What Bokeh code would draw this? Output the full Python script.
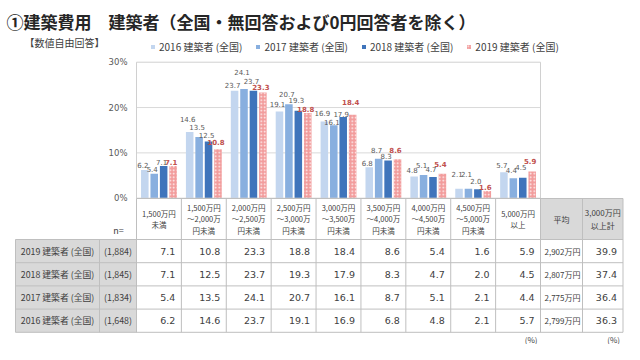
from bokeh.plotting import figure
from bokeh.models import Range1d, Legend, LegendItem
from bokeh.core.properties import value
from bokeh.embed import file_html
from bokeh.resources import INLINE

# ---------------- data ----------------
title_text = "①建築費用　建築者（全国・無回答および0円回答者を除く）"
subtitle_text = "【数値自由回答】"

categories = [
    "1,500万円\n未満",
    "1,500万円\n～2,000万\n円未満",
    "2,000万円\n～2,500万\n円未満",
    "2,500万円\n～3,000万\n円未満",
    "3,000万円\n～3,500万\n円未満",
    "3,500万円\n～4,000万\n円未満",
    "4,000万円\n～4,500万\n円未満",
    "4,500万円\n～5,000万\n円未満",
    "5,000万円\n以上",
]
series_names = ["2016 建築者 (全国)", "2017 建築者 (全国)", "2018 建築者 (全国)", "2019 建築者 (全国)"]
v2016 = [6.2, 14.6, 23.7, 19.1, 16.9, 6.8, 4.8, 2.1, 5.7]
v2017 = [5.4, 13.5, 24.1, 20.7, 16.1, 8.7, 5.1, 2.1, 4.4]
v2018 = [7.1, 12.5, 23.7, 19.3, 17.9, 8.3, 4.7, 2.0, 4.5]
v2019 = [7.1, 10.8, 23.3, 18.8, 18.4, 8.6, 5.4, 1.6, 5.9]

y_ticks = [0, 10, 20, 30]
y_tick_labels = ["0%", "10%", "20%", "30%"]

# table (rows from top: 2019 .. 2016)
row_labels = ["2019 建築者 (全国)", "2018 建築者 (全国)", "2017 建築者 (全国)", "2016 建築者 (全国)"]
n_labels = ["(1,884)", "(1,845)", "(1,834)", "(1,648)"]
avg_labels = ["2,902万円", "2,807万円", "2,775万円", "2,799万円"]
over3000 = [39.9, 37.4, 36.4, 36.3]
extra_headers = ["平均", "3,000万円\n以上計"]
unit_note = "(%)"

# ---------------- layout (pixel positions -> data units) ----------------
W_PX = 404 / 9.0
Y0_PX = 197.7
PX_PER = 136 / 30.0


def ux(px):
    return (px - 136) / W_PX - 0.5


def uy(py):
    return (Y0_PX - py) / PX_PER


# manual label lifts (px above bar top), as in the original chart
label_lift = [
    [5.3, 13, 5.5, 8, 8.5, 4.6, 6.6, 15, 6.9],
    [5, 10, 17, 10.6, 3.5, 9, 10.3, 15, 7.8],
    [4.5, 7, 10, 11, 3.5, 5, 7.4, 8.6, 11.3],
    [4.5, 7, 6, 4, 13, 9.7, 9.9, 3.7, 10],
]

JP = value("Noto Sans CJK JP")
NUM = value("DejaVu Sans")
TXT = "#404040"
LINE = "#bfbfbf"
GRAY = "#d9d9d9"

p = figure(width=624, height=344,
           x_range=Range1d(ux(0), ux(624)), y_range=Range1d(uy(344), uy(0)),
           output_backend="svg", toolbar_location=None,
           x_axis_type=None, y_axis_type=None, min_border=0)
p.outline_line_color = None
p.background_fill_color = "white"
p.border_fill_color = "white"

ncat = len(categories)
ex_edges = [ncat - 0.5, ux(582), ux(622.5)]
ex_centers = [(ex_edges[i] + ex_edges[i + 1]) / 2 for i in range(len(extra_headers))]
nrows = len(row_labels)
HDR_TOP, HDR_BOT = 198.0, 239.0
ROW_H = 23.2
row_tops = [HDR_BOT + ROW_H * i for i in range(nrows + 1)]

# table backgrounds
p.quad(left=[ux(15)], right=[-0.5], top=[uy(HDR_BOT)], bottom=[uy(row_tops[-1])],
       fill_color=GRAY, line_color=None)
p.quad(left=[ex_edges[0]], right=[ex_edges[-1]], top=[uy(HDR_TOP)], bottom=[uy(HDR_BOT)],
       fill_color=GRAY, line_color=None)

# grid lines
grid_y = y_ticks[1:-1]
p.segment(x0=[-0.5] * len(grid_y), x1=[ncat - 0.5] * len(grid_y), y0=grid_y, y1=grid_y,
          line_color="#d9d9d9", line_width=1)

# bars
values = [v2016, v2017, v2018, v2019]
colors = ["#c3d6ef", "#88afdf", "#3f74bb", "#f29c9c"]
offsets = [-0.315, -0.105, 0.105, 0.315]
bw = 0.168
renderers = []
for k, vals in enumerate(values):
    xs = [i + offsets[k] for i in range(ncat)]
    kw = {}
    if k == 3:
        kw = dict(hatch_pattern="dot", hatch_color="white", hatch_scale=3.5, hatch_weight=1.0, hatch_alpha=0.9)
    r = p.vbar(x=xs, top=vals, bottom=0, width=bw, fill_color=colors[k], line_color=None, **kw)
    renderers.append(r)

# chart box
p.quad(left=[-0.5], right=[ncat - 0.5], bottom=[y_ticks[0]], top=[y_ticks[-1]],
       fill_color=None, line_color="#d0d0d0", line_width=1)

# bar value labels
for k, vals in enumerate(values):
    xs = [i + offsets[k] for i in range(ncat)]
    last = (k == 3)
    p.text(x=xs, y=vals, text=[f"{v:.1f}" for v in vals], text_align="center", text_baseline="middle",
           x_offset=-2, y_offset=[-l for l in label_lift[k]], text_font=NUM, text_font_size="7px",
           text_font_style="bold" if last else "normal",
           text_color="#c0504d" if last else "#595959")

# y tick labels
p.text(x=[ux(127)] * len(y_ticks), y=y_ticks, text=y_tick_labels, text_align="right",
       text_baseline="middle", text_font=NUM, text_font_size="8.5px", text_color="#595959")

# table lines
hy = [HDR_TOP] + row_tops
hx0 = [-0.5] + [ux(15)] * len(row_tops)
p.segment(x0=hx0, x1=[ex_edges[-1]] * len(hy), y0=[uy(v) for v in hy], y1=[uy(v) for v in hy],
          line_color=LINE, line_width=1)
vx = [i - 0.5 for i in range(ncat)] + ex_edges
p.segment(x0=vx, x1=vx, y0=[uy(HDR_TOP)] * len(vx), y1=[uy(row_tops[-1])] * len(vx),
          line_color=LINE, line_width=1)
lx = [ux(15), ux(99)]
p.segment(x0=lx, x1=lx, y0=[uy(HDR_BOT)] * 2, y1=[uy(row_tops[-1])] * 2,
          line_color=LINE, line_width=1)

# header texts
hdr_y = uy((HDR_TOP + HDR_BOT) / 2)
p.text(x=list(range(ncat)), y=[hdr_y] * ncat, text=categories, text_align="center",
       text_baseline="middle", text_font=JP, text_font_size="7.5px", text_color=TXT,
       text_line_height=1.08)
p.text(x=ex_centers, y=[hdr_y] * 2, text=extra_headers, text_align="center",
       text_baseline="middle", text_font=JP, text_font_size="8px", text_color=TXT,
       text_line_height=1.1)
p.text(x=[ux(118)], y=[uy(230)], text=["n="], text_align="center", text_baseline="middle",
       text_font=JP, text_font_size="9px", text_color=TXT)

# row texts
row_series = [v2019, v2018, v2017, v2016]
row_cy = [uy(row_tops[i] + ROW_H / 2) for i in range(nrows)]
p.text(x=[ux(57)] * nrows, y=row_cy, text=row_labels, text_align="center", text_baseline="middle",
       text_font=JP, text_font_size="8.8px", text_color=TXT)
p.text(x=[ux(117.5)] * nrows, y=row_cy, text=n_labels, text_align="center", text_baseline="middle",
       text_font=JP, text_font_size="8.8px", text_color=TXT)
cx, cy, ct = [], [], []
for r, vals in enumerate(row_series):
    for c, v in enumerate(vals):
        cx.append(c + 0.5)
        cy.append(row_cy[r])
        ct.append(f"{v:.1f}")
    cx.append(ex_edges[2])
    cy.append(row_cy[r])
    ct.append(f"{over3000[r]:.1f}")
p.text(x=cx, y=cy, text=ct, text_align="right", text_baseline="middle", x_offset=-6,
       text_font=NUM, text_font_size="9.5px", text_color=TXT)
p.text(x=[ex_edges[1]] * nrows, y=row_cy, text=avg_labels, text_align="right", text_baseline="middle",
       x_offset=-2, text_font=JP, text_font_size="8px", text_color=TXT)
p.text(x=[ex_edges[0], ex_edges[2]], y=[uy(row_tops[-1] + 2)] * 2, text=[unit_note, unit_note],
       text_align="right", text_baseline="top", x_offset=-3, text_font=JP, text_font_size="8px",
       text_color=TXT)

# title & subtitle
p.text(x=[ux(6)], y=[uy(20.5)], text=[title_text], text_align="left", text_baseline="middle",
       text_font=JP, text_font_size="17px", text_font_style="bold", text_color="#262626")
p.text(x=[ux(24)], y=[uy(42)], text=[subtitle_text], text_align="left", text_baseline="middle",
       text_font=JP, text_font_size="10px", text_color=TXT)

# legend
legend = Legend(items=[LegendItem(label=series_names[k], renderers=[renderers[k]]) for k in range(4)],
                orientation="horizontal", location=(150, 290),
                glyph_width=5, glyph_height=5, label_height=10, label_standoff=4, spacing=13,
                padding=0, margin=0, border_line_color=None, background_fill_alpha=0,
                label_text_font="Noto Sans CJK JP", label_text_font_size="10px", label_text_color=TXT)
p.add_layout(legend)

open("out.html", "w").write(file_html(p, INLINE))
